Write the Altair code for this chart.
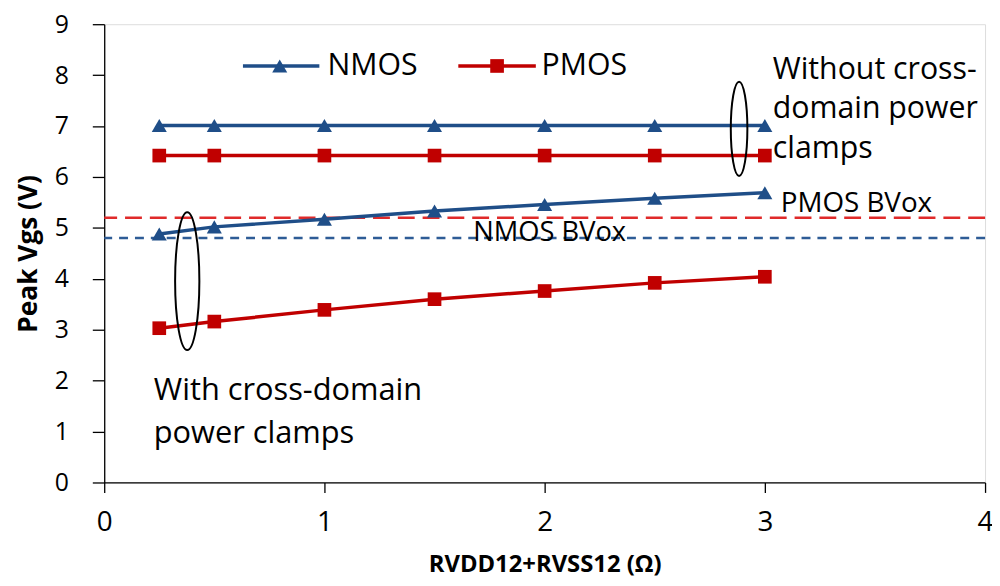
import altair as alt
import pandas as pd

# ---- data ----
x_vals = [0.25, 0.5, 1.0, 1.5, 2.0, 2.5, 3.0]
nmos_without = [7.01, 7.01, 7.01, 7.01, 7.01, 7.01, 7.01]
pmos_without = [6.42, 6.42, 6.42, 6.42, 6.42, 6.42, 6.42]
nmos_with = [4.88, 5.02, 5.17, 5.33, 5.46, 5.58, 5.69]
pmos_with = [3.03, 3.16, 3.39, 3.60, 3.76, 3.92, 4.04]
bvox_devices = ["NMOS", "PMOS"]
bvox_values = [4.8, 5.2]

x_ticks = [0, 1, 2, 3, 4]
y_ticks = [0, 1, 2, 3, 4, 5, 6, 7, 8, 9]

BLUE = "#1F4E88"
RED = "#C00000"
BLUE_DASH = "#2E5C96"
RED_DASH = "#E02A2A"
FONT = "Open Sans"

rows = []
for dev, cond, ys in [("NMOS", "without", nmos_without), ("PMOS", "without", pmos_without),
                      ("NMOS", "with", nmos_with), ("PMOS", "with", pmos_with)]:
    for xv, yv in zip(x_vals, ys):
        rows.append({"x": xv, "y": yv, "device": dev, "cond": cond})
df = pd.DataFrame(rows)

bvox_df = pd.DataFrame({"device": bvox_devices, "y": bvox_values})

# annotation texts (positions in data units)
ann_df = pd.DataFrame({
    "text": ["Without cross-", "domain power", "clamps", "With cross-domain", "power clamps",
             "PMOS BVox", "NMOS BVox"],
    "x": [3.036, 3.036, 3.036, 0.225, 0.225, 3.072, 1.676],
    "y": [8.09, 7.325, 6.546, 1.80, 0.955, 5.474, 4.89],
    "fs": [30.5, 30.5, 30.5, 31, 31, 28, 27.5],
})

legend_df = pd.DataFrame({
    "device": ["NMOS", "PMOS"],
    "x1": [0.63, 1.608], "x2": [0.977, 1.96], "xm": [0.797, 1.784],
    "xt": [1.014, 1.986], "y": [8.18, 8.18],
})

ell_df = pd.DataFrame({"x": [2.883, 0.377], "y": [6.945, 3.955], "size": [9025, 19321]})
ELLIPSE = "M0,-1 A0.176,1 0 1,1 0,1 A0.176,1 0 1,1 0,-1 Z"

xscale = alt.Scale(domain=[0, 4], nice=False, zero=False)
yscale = alt.Scale(domain=[0, 9], nice=False, zero=False)
cscale = alt.Scale(domain=["NMOS", "PMOS"], range=[BLUE, RED])

X = alt.X("x:Q", scale=xscale, axis=alt.Axis(
    values=x_ticks, format="d", grid=False, tickSize=10, labelFlush=False,
    labelFont=FONT, labelFontSize=28, labelColor="black", labelPadding=16,
    domainColor="black", tickColor="black", domainWidth=1.3, tickWidth=1.3,
    title="RVDD12+RVSS12 (Ω)", titleFont=FONT, titleFontSize=24, titleFontWeight="bold",
    titleColor="black", titlePadding=17))
Y = alt.Y("y:Q", scale=yscale, axis=alt.Axis(
    values=y_ticks, format="d", grid=False, tickSize=12, labelFlush=False,
    labelFont=FONT, labelFontSize=25, labelColor="black", labelPadding=24,
    domainColor="black", tickColor="black", domainWidth=1.3, tickWidth=1.3,
    title="Peak Vgs (V)", titleFont=FONT, titleFontSize=26.5, titleFontWeight="bold",
    titleColor="black", titlePadding=12))
C = alt.Color("device:N", scale=cscale, legend=None)

base = alt.Chart(df)

rule_n = alt.Chart(bvox_df).transform_filter(alt.datum.device == "NMOS").mark_rule(
    color=BLUE_DASH, strokeWidth=2.5, strokeDash=[9, 7]).encode(y=alt.Y("y:Q", scale=yscale))
rule_p = alt.Chart(bvox_df).transform_filter(alt.datum.device == "PMOS").mark_rule(
    color=RED_DASH, strokeWidth=2.5, strokeDash=[17, 8]).encode(y=alt.Y("y:Q", scale=yscale))

lines = base.mark_line(strokeWidth=3.5).encode(x=X, y=Y, color=C, detail="cond:N")
pts_n = base.transform_filter(alt.datum.device == "NMOS").mark_point(
    shape="triangle-up", filled=True, size=230, opacity=1).encode(x=X, y=Y, color=C)
pts_p = base.transform_filter(alt.datum.device == "PMOS").mark_point(
    shape="square", filled=True, size=190, opacity=1).encode(x=X, y=Y, color=C)

ann = alt.Chart(ann_df).mark_text(align="left", baseline="middle", font=FONT, color="black").encode(
    x=alt.X("x:Q", scale=xscale), y=alt.Y("y:Q", scale=yscale), text="text:N",
    size=alt.Size("fs:Q", scale=None))

leg = alt.Chart(legend_df)
leg_lines = leg.mark_rule(strokeWidth=3.5).encode(
    x=alt.X("x1:Q", scale=xscale), x2="x2:Q", y=alt.Y("y:Q", scale=yscale), color=C)
leg_n = leg.transform_filter(alt.datum.device == "NMOS").mark_point(
    shape="triangle-up", filled=True, size=230, opacity=1).encode(
    x=alt.X("xm:Q", scale=xscale), y=alt.Y("y:Q", scale=yscale), color=C)
leg_p = leg.transform_filter(alt.datum.device == "PMOS").mark_point(
    shape="square", filled=True, size=190, opacity=1).encode(
    x=alt.X("xm:Q", scale=xscale), y=alt.Y("y:Q", scale=yscale), color=C)
leg_t = leg.mark_text(align="left", baseline="middle", font=FONT, fontSize=30.5, color="black").encode(
    x=alt.X("xt:Q", scale=xscale), y=alt.Y("y:Q", scale=yscale), text="device:N")

ell = alt.Chart(ell_df).mark_point(shape=ELLIPSE, filled=False, color="black", strokeWidth=2,
                                   opacity=1).encode(
    x=alt.X("x:Q", scale=xscale), y=alt.Y("y:Q", scale=yscale), size=alt.Size("size:Q", scale=None))

chart = alt.layer(rule_n, rule_p, lines, pts_n, pts_p, ann, leg_lines, leg_n, leg_p, leg_t, ell).properties(
    width=888, height=462,
    autosize=alt.AutoSizeParams(type="none"),
    padding={"left": 97, "top": 14, "right": 7, "bottom": 100},
).configure_view(stroke="black", strokeWidth=1.3).configure(background="white")

chart.save("out.html", embed_options={"renderer": "svg", "actions": False})
